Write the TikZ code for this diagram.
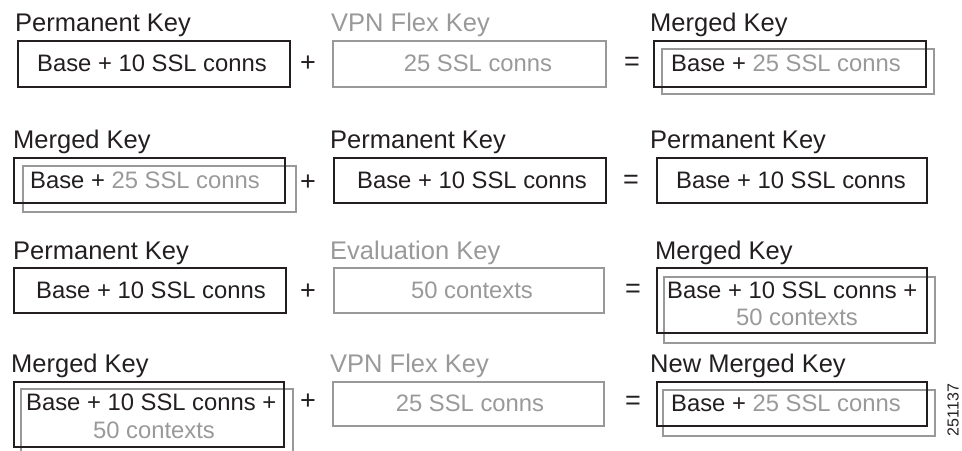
\documentclass[tikz,border=0pt]{standalone}
\usepackage{fontspec}
\setmainfont{Liberation Sans}
\definecolor{ink}{HTML}{231F20}
\definecolor{gry}{HTML}{999999}
\tikzset{
  bx/.style={draw=ink, line width=2bp, inner sep=0pt, outer sep=0pt},
  gbx/.style={draw=gry, line width=2bp, inner sep=0pt, outer sep=0pt},
  lbl/.style={anchor=base west, inner sep=0pt, text=ink, font=\fontsize{25.5bp}{30bp}\selectfont},
  glbl/.style={lbl, text=gry},
  txt/.style={inner sep=0pt, text=ink, font=\fontsize{23.8bp}{28bp}\selectfont},
  gtxt/.style={txt, text=gry},
  wtxt/.style={txt, anchor=west},
  op/.style={inner sep=0pt, text=ink, font=\fontsize{27bp}{30bp}\selectfont}
}
\begin{document}
\begin{tikzpicture}[x=1bp,y=-1bp]
\useasboundingbox (0,0) rectangle (962,451);
% ---------- Row 1 ----------
\node[lbl]  (l11) at (15,32)  {Permanent Key};
\node[glbl] (l12) at (331,32) {VPN Flex Key};
\node[lbl]  (l13) at (650,32) {Merged Key};
\node[bx,  minimum width=272bp, minimum height=46bp] (a1) at (154,64) {};
\node[gbx, minimum width=273bp, minimum height=46bp] (b1) at (469.5,64) {};
\node[gbx, minimum width=272bp, minimum height=45bp] (c1g) at (798,71.5) {};
\node[bx,  minimum width=272bp, minimum height=46bp] (c1) at (790,64) {};
\node[txt]  (ta1) at (152,63) {Base + 10 SSL conns};
\node[gtxt] (tb1) at (478,63) {25 SSL conns};
\node[wtxt] (tc1) at (671,63) {Base + \textcolor{gry}{25 SSL conns}};
\node[op] (p1) at (308,64) {+};
\node[op] (e1) at (632,64) {=};
% ---------- Row 2 ----------
\node[lbl] (l21) at (13,149)  {Merged Key};
\node[lbl] (l22) at (330,149) {Permanent Key};
\node[lbl] (l23) at (650,149) {Permanent Key};
\node[gbx, minimum width=273bp, minimum height=46bp] (a2g) at (159.5,189) {};
\node[bx,  minimum width=271bp, minimum height=45bp] (a2) at (149.5,180.5) {};
\node[bx,  minimum width=272bp, minimum height=45bp] (b2) at (470,180.5) {};
\node[bx,  minimum width=270bp, minimum height=45bp] (c2) at (792,180.5) {};
\node[wtxt] (ta2) at (30,180) {Base + \textcolor{gry}{25 SSL conns}};
\node[txt]  (tb2) at (472,180) {Base + 10 SSL conns};
\node[txt]  (tc2) at (791,180) {Base + 10 SSL conns};
\node[op] (p2) at (308,183) {+};
\node[op] (e2) at (631,182) {=};
% ---------- Row 3 ----------
\node[lbl]  (l31) at (13,260)  {Permanent Key};
\node[glbl] (l32) at (330,260) {Evaluation Key};
\node[lbl]  (l33) at (655,260) {Merged Key};
\node[bx,  minimum width=272bp, minimum height=45bp] (a3) at (150,290.5) {};
\node[gbx, minimum width=270bp, minimum height=45bp] (b3) at (469,290.5) {};
\node[gbx, minimum width=271bp, minimum height=66bp] (c3g) at (799.5,310) {};
\node[bx,  minimum width=270bp, minimum height=65bp] (c3) at (792,300.5) {};
\node[txt]  (ta3) at (151,290) {Base + 10 SSL conns};
\node[gtxt] (tb3) at (472,290) {50 contexts};
\node[wtxt] (tc3a) at (667,290) {Base + 10 SSL conns +};
\node[gtxt] (tc3b) at (797,317) {50 contexts};
\node[op] (p3) at (308,292) {+};
\node[op] (e3) at (633,291) {=};
% ---------- Row 4 ----------
\node[lbl]  (l41) at (11,373)  {Merged Key};
\node[glbl] (l42) at (330,373) {VPN Flex Key};
\node[lbl]  (l43) at (650,373) {New Merged Key};
\node[gbx, minimum width=272bp, minimum height=66bp] (a4g) at (157,422) {};
\node[bx,  minimum width=270bp, minimum height=65bp] (a4) at (149,414.5) {};
\node[gbx, minimum width=271bp, minimum height=44bp] (b4) at (468.5,404) {};
\node[gbx, minimum width=272bp, minimum height=46bp] (c4g) at (799,413) {};
\node[bx,  minimum width=270bp, minimum height=44bp] (c4) at (792,404) {};
\node[wtxt] (ta4a) at (26,402) {Base + 10 SSL conns +};
\node[gtxt] (ta4b) at (154,430) {50 contexts};
\node[gtxt] (tb4) at (470,403) {25 SSL conns};
\node[wtxt] (tc4) at (671,403) {Base + \textcolor{gry}{25 SSL conns}};
\node[op] (p4) at (308,402) {+};
\node[op] (e4) at (633,403) {=};
% ---------- figure number ----------
\node[inner sep=0pt, text=ink, rotate=90, font=\fontsize{16bp}{18bp}\selectfont] (num) at (953,410) {251137};
\end{tikzpicture}
\end{document}
